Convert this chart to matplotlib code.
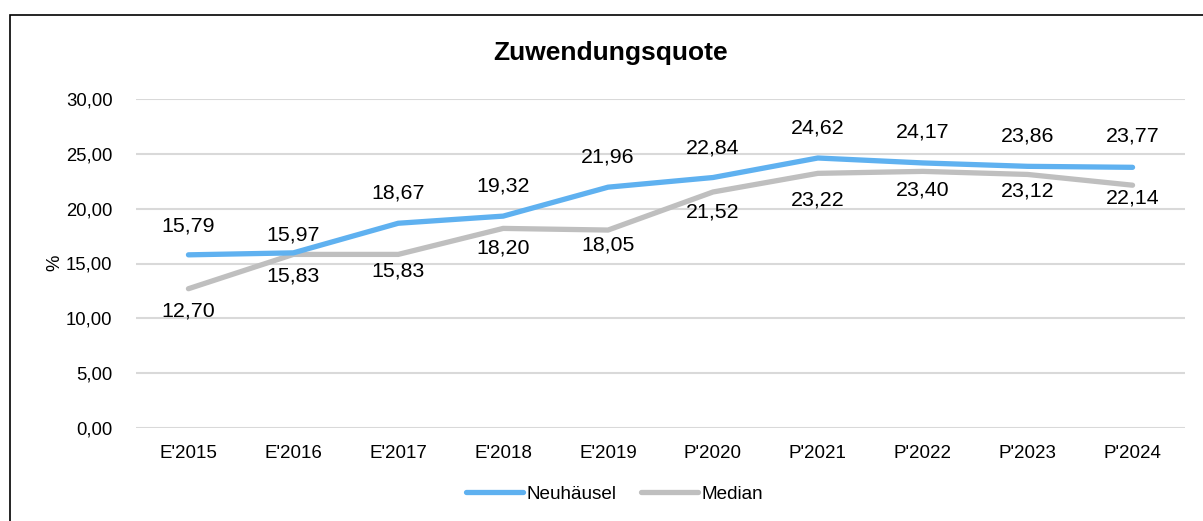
import matplotlib
matplotlib.use("Agg")
import matplotlib.pyplot as plt
from matplotlib.patches import Rectangle

plt.rcParams['font.family'] = ['Liberation Sans', 'DejaVu Sans']

categories = ["E'2015", "E'2016", "E'2017", "E'2018", "E'2019",
              "P'2020", "P'2021", "P'2022", "P'2023", "P'2024"]
neuhaeusel = [15.79, 15.97, 18.67, 19.32, 21.96, 22.84, 24.62, 24.17, 23.86, 23.77]
median = [12.70, 15.83, 15.83, 18.20, 18.05, 21.52, 23.22, 23.40, 23.12, 22.14]
yticks = [0, 5, 10, 15, 20, 25, 30]

# label placement (pixel offsets of label centre from the point)
neu_label_dy = [29, 18, 30, 30, 30.5, 29.5, 30, 30.5, 30, 31]
med_label_dy = [-22, -21.5, -17, -19.5, -15, -20.5, -27, -19, -17, -13]

W, H = 1203, 521
fig = plt.figure(figsize=(W / 100, H / 100), dpi=100)
ax = fig.add_axes([136 / W, 1 - 428 / H, (1185 - 136) / W, (428 - 99) / H])

blue = '#5FB1F0'
gray = '#BFBFBF'
x = list(range(len(categories)))
ax.plot(x, neuhaeusel, color=blue, lw=3.8, solid_capstyle='round', label='Neuhäusel', zorder=3)
ax.plot(x, median, color=gray, lw=3.8, solid_capstyle='round', label='Median', zorder=2)

def fmt(v):
    return f"{v:.2f}".replace('.', ',')

px2pt = 0.72
for xi, v, dy in zip(x, neuhaeusel, neu_label_dy):
    ax.annotate(fmt(v), (xi, v), xytext=(0, dy * px2pt), textcoords='offset points',
                ha='center', va='center', fontsize=15.4, color='#000000')
for xi, v, dy in zip(x, median, med_label_dy):
    ax.annotate(fmt(v), (xi, v), xytext=(0, dy * px2pt), textcoords='offset points',
                ha='center', va='center', fontsize=15.4, color='#000000')

ax.set_xlim(-0.5, len(categories) - 0.5)
ax.set_ylim(0, 30)
ax.set_yticks(yticks)
ax.set_yticklabels([fmt(t) for t in yticks], fontsize=13.3)
ax.set_xticks(x)
ax.set_xticklabels(categories, fontsize=13.5)
ax.tick_params(length=0, pad=12)
ax.tick_params(axis='y', pad=17)
ax.grid(axis='y', color='#D9D9D9', lw=1.5)
ax.set_axisbelow(True)
for s in ax.spines.values():
    s.set_visible(False)

fig.text(55 / W, 1 - 263 / H, '%', rotation=90, ha='center', va='center', fontsize=13.3)
fig.text(611 / W, 1 - 53 / H, 'Zuwendungsquote', ha='center', va='center',
         fontsize=19, fontweight='bold')

fig.legend(loc='center', bbox_to_anchor=(615 / W, 1 - 494 / H), ncol=2, frameon=False,
           fontsize=13.6, handlelength=3.0, handletextpad=0.2, columnspacing=1.3)

fig.patches.append(Rectangle((10 / W, -0.1), 1.2, 1.1 - 15 / H, transform=fig.transFigure,
                             fill=False, edgecolor='#000000', lw=1.2))

fig.savefig('out.png', dpi=100)
